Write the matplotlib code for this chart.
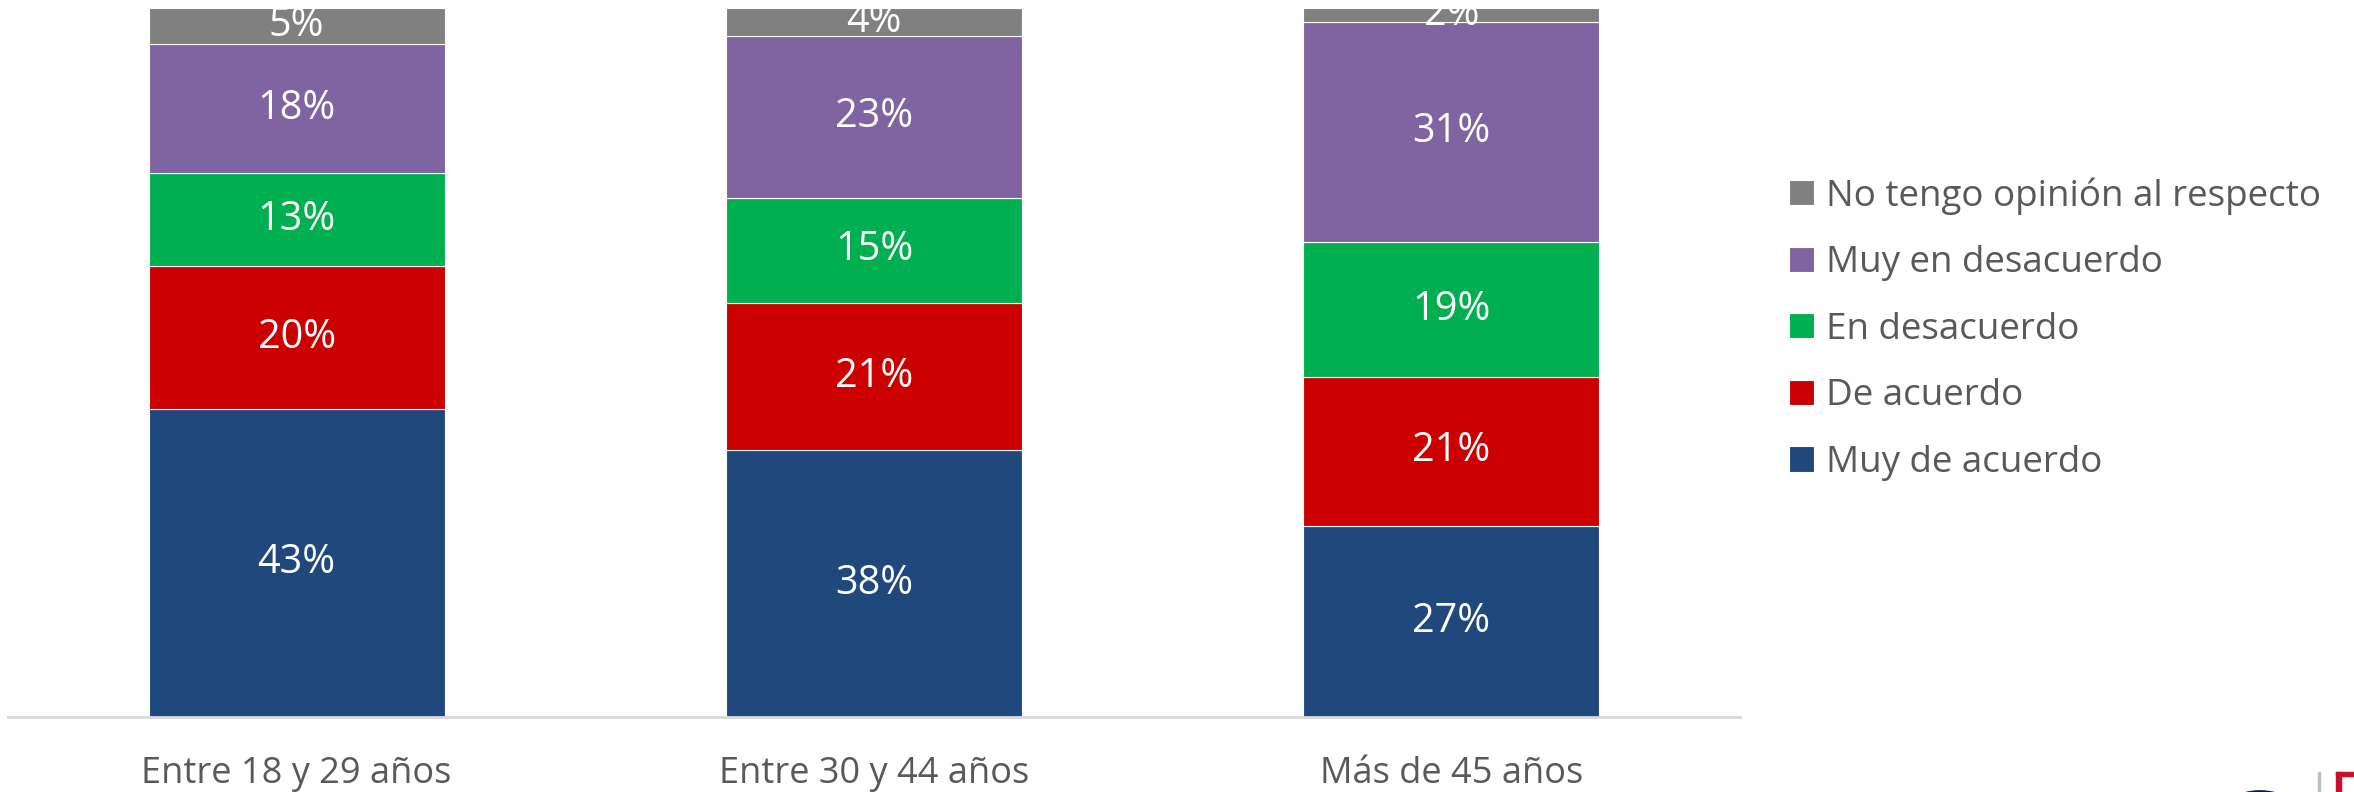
import matplotlib.pyplot as plt
import numpy as np
from matplotlib.patches import Circle, Rectangle

plt.rcParams['font.family'] = ['Open Sans', 'DejaVu Sans']

groups = ['Entre 18 y 29 años', 'Entre 30 y 44 años', 'Más de 45 años']
series = ['Muy de acuerdo', 'De acuerdo', 'En desacuerdo', 'Muy en desacuerdo',
          'No tengo opinión al respecto']
muy_de_acuerdo = [43, 38, 27]
de_acuerdo = [20, 21, 21]
en_desacuerdo = [13, 15, 19]
muy_en_desacuerdo = [18, 23, 31]
sin_opinion = [5, 4, 2]
colors = ['#1F497D', '#CC0000', '#00B050', '#8064A2', '#808080']

vals = np.array([muy_de_acuerdo, de_acuerdo, en_desacuerdo, muy_en_desacuerdo, sin_opinion], dtype=float)
shares = vals / vals.sum(axis=0)  # 100% stacked

W, H = 2354, 792
fig = plt.figure(figsize=(W / 100, H / 100), dpi=100)
ax = fig.add_axes([8 / W, 75 / H, 1732 / W, 709 / H])

x = np.arange(len(groups))
bottom = np.zeros(len(groups))
handles = []
for i, name in enumerate(series):
    b = ax.bar(x, shares[i], 0.513, bottom=bottom, color=colors[i],
               edgecolor='white', linewidth=0.8, label=name)
    handles.append(b)
    for j in range(len(groups)):
        ax.text(x[j], bottom[j] + shares[i][j] / 2, '%d%%' % vals[i][j],
                ha='center', va='center', color='white', fontsize=28.5, clip_on=False)
    bottom += shares[i]

ax.set_xlim(-0.5, 2.5)
ax.set_ylim(0, 1)
ax.set_yticks([])
for s in ['top', 'right', 'left']:
    ax.spines[s].set_visible(False)
ax.spines['bottom'].set_color('#D9D9D9')
ax.spines['bottom'].set_linewidth(2)
ax.set_xticks(x)
ax.set_xticklabels(groups, fontsize=26, color='#595959')
ax.tick_params(axis='x', length=0, pad=28)

leg = fig.legend(handles[::-1], series[::-1], loc='upper left',
                 bbox_to_anchor=(1756 / W, 1 - 144 / H), frameon=False,
                 fontsize=26.5, handlelength=0.68, handleheight=0.68,
                 handletextpad=0.33, labelspacing=0.83, labelcolor='#595959')

# partial logo at the bottom-right corner
fig.patches.append(Circle((2260 / W, 1 - 800 / H), 21 / W, transform=fig.transFigure,
                          fill=False, edgecolor='#0B1E3F', linewidth=4))
fig.patches.append(Rectangle((2318 / W, 0), 1.5 / W, 20 / H, transform=fig.transFigure,
                             color='#BFBFBF'))
fig.patches.append(Rectangle((2336 / W, 0), 5 / W, 20 / H, transform=fig.transFigure,
                             color='#C8102E'))
fig.patches.append(Rectangle((2336 / W, 16 / H), 18 / W, 4 / H, transform=fig.transFigure,
                             color='#C8102E'))

fig.savefig('out.png', dpi=100)
